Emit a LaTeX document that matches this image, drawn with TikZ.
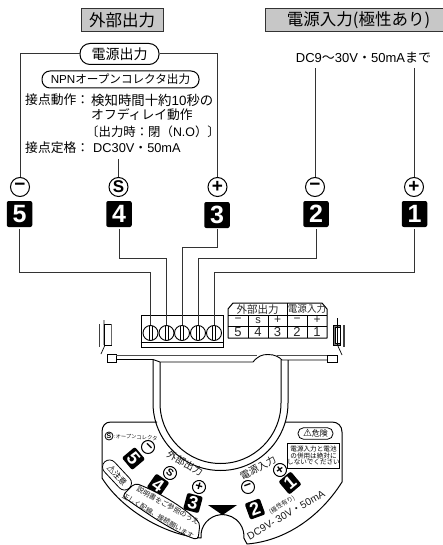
\documentclass[tikz,border=0pt]{standalone}
\usepackage{fontspec}
\setmainfont{Liberation Sans}
\newfontfamily\jp{Noto Sans CJK JP}
\newfontfamily\djv{DejaVu Sans}
\newcommand\fz[1]{\fontsize{#1}{#1}\selectfont}
\newcommand\J[1]{{\jp #1}}
\tikzset{
 x=1pt,y=-1pt,
 wire/.style={draw=black!80,line width=1pt},
 header/.style={draw=black!80,line width=1pt,fill=black!22,minimum height=23pt,inner sep=0pt,font=\fz{16.5}\jp},
 pill/.style={draw=black,line width=1pt,rounded corners=8pt,fill=white,inner sep=0pt,font=\jp},
 polar/.style={circle,draw=black,line width=1pt,minimum size=19pt,inner sep=0pt,font=\fz{19}\bfseries,fill=white},
 numbox/.style={fill=black,text=white,rounded corners=2pt,minimum width=25.5pt,minimum height=26pt,inner sep=0pt,font=\fz{25}\bfseries},
 smallpolar/.style={polar,minimum size=13pt,font=\fz{13}\bfseries},
 smallnum/.style={numbox,minimum width=16pt,minimum height=17pt,font=\fz{18}\bfseries},
 spec/.style={anchor=west,inner sep=0pt,font=\fz{12.8}},
 screw/.style={circle,draw=black,line width=.9pt,minimum size=15pt,inner sep=0pt,
   path picture={\draw[line width=.8pt] ([xshift=-1.6pt]path picture bounding box.north) -- ([xshift=-1.6pt]path picture bounding box.south);
                 \draw[line width=.8pt] ([xshift=1.6pt]path picture bounding box.north) -- ([xshift=1.6pt]path picture bounding box.south);}},
 cell/.style={inner sep=0pt,font=\fz{12},text=black!85},
 case/.style={draw=black,line width=1pt},
 plate/.style={inner sep=0pt,text=black!90},
}
\begin{document}
\begin{tikzpicture}
\useasboundingbox (0,0) rectangle (443,545);
% headers
\node[header,minimum width=82pt] (hout) at (122,20.5) {外部出力};
\node[header,minimum width=187pt] (hin) at (358.5,20.5) {電源入力(極性あり)};
% pills
\node[pill,minimum width=79pt,minimum height=21pt,font=\fz{14}\jp,rounded corners=10pt] (ppow) at (119.5,54) {電源出力};
\node[pill,minimum width=157pt,minimum height=17pt,font=\fz{11.6}\rmfamily] (pnpn) at (120.5,79.5) {NPN\J{オープンコレクタ出力}};
% spec text
\node[spec] (s1) at (25,100) {\J{接点動作：}};
\node[spec,font=\fz{13.4}] (s2) at (91,100) {\J{検知時間十約}10\J{秒の}};
\node[spec] (s3) at (91,115) {\J{オフディレイ動作}};
\node[spec,font=\fz{12.4}] (s4) at (86,131.5) {\J{〔出力時：閉（}N.O\J{）〕}};
\node[spec] (s5) at (25,148) {\J{接点定格：}};
\node[spec] (s6) at (93,148) {DC30V\J{・}50mA};
\node[inner sep=0pt,font=\fz{13}] (dcin) at (363.5,58) {DC9\J{〜}30V\J{・}50mA\J{まで}};
% polarity circles
\node[polar] (c5) at (20,187) {−};
\node[polar] (c4) at (118.5,187) {\fz{17}S};
\node[polar] (c3) at (217.5,187) {+};
\node[polar] (c2) at (315,187) {−};
\node[polar] (c1) at (414,187) {+};
% number boxes
\node[numbox] (n5) at (19.5,214) {5};
\node[numbox] (n4) at (119,214) {4};
\node[numbox] (n3) at (217,215) {3};
\node[numbox] (n2) at (316,214) {2};
\node[numbox] (n1) at (414.5,214) {1};
% top wires
\coordinate (t4) at (118.5,159);
\coordinate (t2) at (315,68);
\coordinate (t1) at (414,68);
\draw[wire] (ppow.west) -| (c5.north);
\draw[wire] (ppow.east) -| (c3.north);
\draw[wire] (t4) -- (c4.north);
\draw[wire] (t2) -- (c2.north);
\draw[wire] (t1) -- (c1.north);
% terminal block
\node[draw=black,line width=1pt,minimum width=82pt,minimum height=32pt,inner sep=0pt] (tb) at (182,331) {};
\draw[line width=1pt] (tb.west |- 0,342) -- (tb.east |- 0,342);
\node[screw] (s-5) at (150.5,333) {};
\node[screw] (s-4) at (166.5,333) {};
\node[screw] (s-3) at (182,333) {};
\node[screw] (s-2) at (198,333) {};
\node[screw] (s-1) at (214,333) {};
% lower wires
\draw[wire,shorten <=2pt] (n5.south) |- (100,272.5) -| (s-5.north);
\draw[wire,shorten <=2pt] (n4.south) |- (140,258.5) -| (s-4.north);
\draw[wire,shorten <=1pt] (n3.south) |- (200,247.5) -| (s-3.north);
\draw[wire,shorten <=2pt] (n2.south) |- (250,258.5) -| (s-2.north);
\draw[wire,shorten <=2pt] (n1.south) |- (300,272.5) -| (s-1.north);
% table
\draw[line width=1pt,line join=round] (228,338) -- (228,309) -- (233,303) -- (322,303) -- (327,309) -- (327,338) -- cycle;
\draw[line width=.8pt] (228,315) -- (327,315) (228,326) -- (327,326);
\draw[line width=.8pt] (287,303) -- (287,338);
\foreach \xx in {248,268,307}{\draw[line width=.8pt] (\xx,315) -- (\xx,338);}
\node[cell,font=\fz{10.5}\jp] (th1) at (257.5,309.3) {外部出力};
\node[cell,font=\fz{9.6}\jp] (th2) at (307,309.3) {電源入力};
\node[cell] (r1) at (238,320.3) {−};
\node[cell,font=\fz{11}] (r2) at (258,320.5) {s};
\node[cell] (r3) at (277.5,320.3) {+};
\node[cell] (r4) at (297,320.3) {−};
\node[cell] (r5) at (317,320.3) {+};
\node[cell,font=\fz{13}] (v1) at (238,332) {5};
\node[cell,font=\fz{13}] (v2) at (258,332) {4};
\node[cell,font=\fz{13}] (v3) at (277.5,332) {3};
\node[cell,font=\fz{13}] (v4) at (297,332) {2};
\node[cell,font=\fz{13}] (v5) at (317,332) {1};
% clips
\draw[draw=black!75,line width=1.6pt] (99.5,324) -- (99.5,347);
\draw[line width=.8pt,fill=white] (104,324) rectangle (111,345);
\draw[line width=1pt,draw=black!60] (111,324) -- (111,345);
\draw[line width=.7pt] (104,320) -- (104,345) (101,354) -- (105,345);
\draw[draw=black!75,line width=1.6pt] (344,325) -- (344,347);
\draw[line width=.8pt,fill=black!55] (333,325) rectangle (340,345);
\draw[line width=.7pt,fill=white] (335.5,327) rectangle (340,343);
\draw[line width=.7pt] (337.5,318) -- (337.5,345) -- (342,355);
% crossbar
\draw[line width=.9pt] (107,354.5) rectangle (116,362);
\draw[line width=.9pt,draw=black!70] (116,355) -- (257,355);
\draw[line width=.9pt] (116,359.5) -- (153,359.5) -- (160,362) -- (253,362) .. controls (258,356) and (262,354.5) .. (268,354.5) .. controls (275,354.5) and (279,357) .. (282,360) -- (327,360);
\draw[line width=.9pt,draw=black!70] (277,355) -- (327,355);
\draw[line width=.9pt] (327,355) rectangle (337,362);
% U bracket
\draw[case] (153,360) -- (153,403) arc[start angle=180,delta angle=-180,radius=67.5] -- (288,360);
\draw[case] (160,362) -- (160,403) arc[start angle=180,delta angle=-180,radius=60.5] -- (281,360);
% plate outline
\draw[case,line join=round] (157,422) -- (111,422) .. controls (105,422) and (102,426) .. (102,432) -- (102,478)
  .. controls (122,510) and (165,535) .. (201,538)
  arc[start angle=175,delta angle=190,radius=21.5] -- (247,544)
  .. controls (285,541) and (320,517) .. (342,482) -- (342,432) .. controls (342,426) and (338,422) .. (332,422) -- (285,422);
% plate labels
\node[circle,draw=black,line width=.8pt,minimum size=8pt,inner sep=0pt,font=\fz{7}\bfseries] (ps) at (109,436) {S};
\node[plate,anchor=west,rotate=-3,font=\fz{5.3}\jp] (pc) at (114,436) {:オープンコレクタ};
\node[smallpolar,rotate=-45] (m5) at (148,447) {−};
\node[smallnum,rotate=-50] (k5) at (133.5,458.5) {5};
\node[smallpolar,rotate=-35] (m4) at (170,473) {\fz{10}S};
\node[smallnum,rotate=-35] (k4) at (158,485) {4};
\node[smallpolar,rotate=-15] (m3) at (199,487) {+};
\node[smallnum,rotate=-15] (k3) at (193,503) {3};
\node[smallpolar,rotate=20] (m2) at (248,487) {−};
\node[smallnum,rotate=20] (k2) at (255,509) {2};
\node[smallpolar,rotate=35] (m1) at (280,470) {+};
\node[smallnum,rotate=40] (k1) at (290,483) {1};
\node[plate,rotate=-29,font=\fz{9.8}\jp] (lout) at (185,463) {外部出力};
\node[plate,rotate=29,font=\fz{9.8}\jp] (lin) at (258,468) {電源入力};
\node[plate,rotate=32,font=\fz{6.2}\jp] (lpol) at (282,505) {(極性有り)};
\node[plate,rotate=30,font=\fz{10.2}] (ldc) at (286,515) {DC9V- 30V\J{・}50mA};
\fill (208,505) -- (237,505) -- (222.5,515) -- cycle;
% caution pill
\node[pill,rotate=-47,minimum width=36pt,minimum height=14pt,rounded corners=7pt,line width=.8pt,font=\fz{8}\jp] (caut) at (117,475) {{\djv\fz{10}⚠}注意};
% instruction band
\path[draw=black,line width=.9pt,fill=white,rounded corners=4pt] (135,483) .. controls (158,492) and (182,506) .. (200,523) -- (198,540) .. controls (172,531) and (148,514) .. (122,496) -- cycle;
\node[plate,rotate=-29,font=\fz{7}\jp] (ins1) at (168,505.5) {説明書をご参照のうえ};
\node[plate,rotate=-31,font=\fz{6.8}\jp] (ins2) at (158,516) {正しく配線、接続願います};
% danger
\node[pill,minimum width=35pt,minimum height=11.5pt,rounded corners=5.5pt,line width=.8pt,font=\fz{8}\jp] (dang) at (315.5,433.5) {{\djv\fz{10}⚠}危険};
\node[draw=black,line width=.9pt,minimum width=49pt,minimum height=25pt,inner sep=0pt,align=center,font=\fz{6.6}\jp] (warn) at (313.5,455.5) {電源入力と電池\\の併用は絶対に\\しないでください};
\end{tikzpicture}
\end{document}
